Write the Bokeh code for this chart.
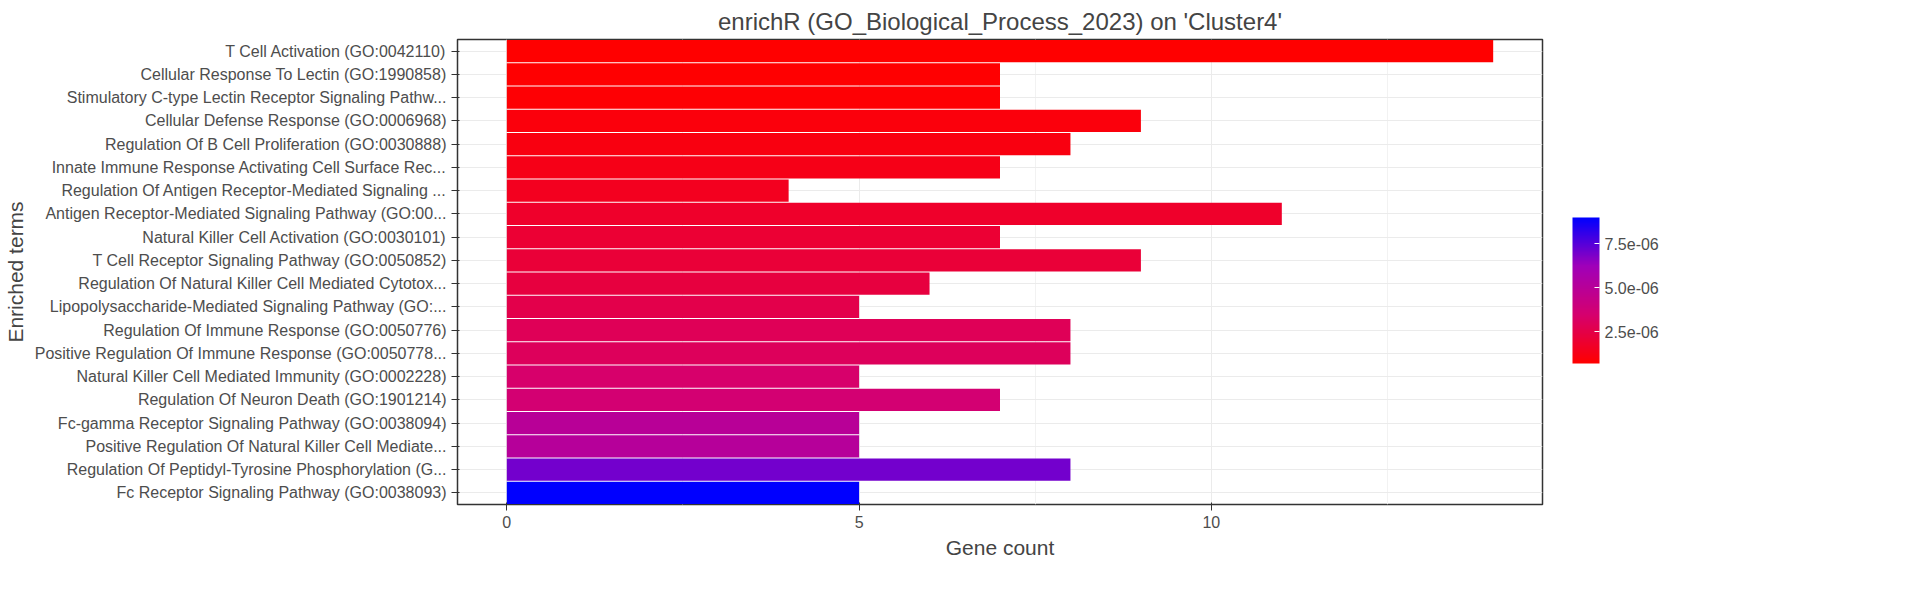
from bokeh.plotting import figure
from bokeh.models import (ColumnDataSource, LinearColorMapper, ColorBar, FixedTicker, Range1d,
                          CustomJSTickFormatter, Label)
from bokeh.embed import file_html
from bokeh.resources import INLINE

terms = [
    "T Cell Activation (GO:0042110)",
    "Cellular Response To Lectin (GO:1990858)",
    "Stimulatory C-type Lectin Receptor Signaling Pathw...",
    "Cellular Defense Response (GO:0006968)",
    "Regulation Of B Cell Proliferation (GO:0030888)",
    "Innate Immune Response Activating Cell Surface Rec...",
    "Regulation Of Antigen Receptor-Mediated Signaling ...",
    "Antigen Receptor-Mediated Signaling Pathway (GO:00...",
    "Natural Killer Cell Activation (GO:0030101)",
    "T Cell Receptor Signaling Pathway (GO:0050852)",
    "Regulation Of Natural Killer Cell Mediated Cytotox...",
    "Lipopolysaccharide-Mediated Signaling Pathway (GO:...",
    "Regulation Of Immune Response (GO:0050776)",
    "Positive Regulation Of Immune Response (GO:0050778...",
    "Natural Killer Cell Mediated Immunity (GO:0002228)",
    "Regulation Of Neuron Death (GO:1901214)",
    "Fc-gamma Receptor Signaling Pathway (GO:0038094)",
    "Positive Regulation Of Natural Killer Cell Mediate...",
    "Regulation Of Peptidyl-Tyrosine Phosphorylation (G...",
    "Fc Receptor Signaling Pathway (GO:0038093)",
]
gene_count = [14, 7, 7, 9, 8, 7, 4, 11, 7, 9, 6, 5, 8, 8, 5, 7, 5, 5, 8, 5]
p_value = [7.0e-7, 7.5e-7, 8.0e-7, 1.0e-6, 1.1e-6, 1.3e-6, 1.5e-6, 1.8e-6, 2.0e-6, 2.1e-6,
           2.3e-6, 2.6e-6, 2.9e-6, 3.0e-6, 3.4e-6, 3.6e-6, 5.0e-6, 5.1e-6, 7.0e-6, 9.0e-6]
cb_ticks = [2.5e-6, 5e-6, 7.5e-6]


def hexc(c):
    return "#%02x%02x%02x" % tuple(int(round(v)) for v in c)


# red -> magenta -> blue, roughly like ggplot's Lab gradient
anchors = [(255, 0, 0), (214, 0, 110), (160, 0, 185), (0, 0, 255)]
palette = []
n = 256
for i in range(n):
    t = i / (n - 1) * (len(anchors) - 1)
    k = min(int(t), len(anchors) - 2)
    f = t - k
    a, b = anchors[k], anchors[k + 1]
    palette.append(hexc([a[j] + (b[j] - a[j]) * f for j in range(3)]))

mapper = LinearColorMapper(palette=palette, low=min(p_value), high=max(p_value))

src = ColumnDataSource(dict(term=terms, count=gene_count, p=p_value))

font = "Liberation Sans"
p = figure(y_range=list(reversed(terms)), x_range=Range1d(-0.7, 14.7),
           frame_width=1085, frame_height=465, output_backend="svg", toolbar_location=None,
           title="enrichR (GO_Biological_Process_2023) on 'Cluster4'")
p.hbar(y="term", right="count", left=0, height=0.95, source=src,
       fill_color={"field": "p", "transform": mapper}, line_color=None)

p.title.text_font = font
p.title.text_font_size = "24px"
p.title.text_font_style = "normal"
p.title.align = "center"
p.xaxis.axis_label = "Gene count"
p.yaxis.axis_label = "Enriched terms"
for ax in (p.xaxis, p.yaxis):
    ax.axis_label_text_font = font
    ax.axis_label_text_font_style = "normal"
    ax.axis_label_text_font_size = "21px"
    ax.major_label_text_font = font
    ax.major_label_text_font_size = "16px"
    ax.major_label_text_color = "#4d4d4d"
    ax.axis_line_color = None
    ax.major_tick_line_color = "#333333"
    ax.minor_tick_line_color = None
p.xaxis.ticker = FixedTicker(ticks=[0, 5, 10], minor_ticks=[2.5, 7.5, 12.5])
p.xgrid.grid_line_color = "#ebebeb"
p.xgrid.minor_grid_line_color = "#f2f2f2"
p.ygrid.grid_line_color = "#ebebeb"
p.outline_line_color = "#333333"
p.outline_line_width = 1.5

cb = ColorBar(color_mapper=mapper, ticker=FixedTicker(ticks=cb_ticks),
              formatter=CustomJSTickFormatter(code="return tick.toExponential(1).replace('e-', 'e-0');"),
              major_label_text_font=font,
              major_label_text_font_size="16px", major_label_text_color="#4d4d4d",
              width=27, height=146, major_tick_line_color="white",
              bar_line_color=None, location=(25, 136), padding=5)
p.add_layout(cb, "right")
p.min_border_right = 40

# legend title, horizontal like ggplot's
p.add_layout(Label(x=15.55, y=13.45, text="P", text_font=font, text_font_size="21px",
                   text_font_style="italic", text_baseline="middle"))
p.add_layout(Label(x=15.85, y=13.45, text=" value", text_font=font, text_font_size="21px",
                   text_baseline="middle"))

open("out.html", "w").write(file_html(p, INLINE))
